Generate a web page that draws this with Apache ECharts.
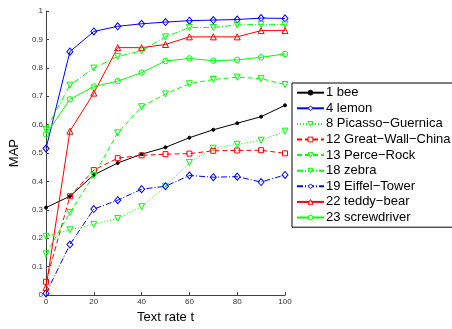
<!DOCTYPE html>
<html>
<head>
<meta charset="utf-8">
<script src="https://cdn.jsdelivr.net/npm/echarts@6/dist/echarts.min.js"></script>
<style>
  html, body { margin: 0; padding: 0; background: #fff; }
  #chart { width: 452px; height: 329px; }
</style>
</head>
<body>
<div id="chart"></div>
<script>
// Text rate t (x axis)
const textRates = [0, 10, 20, 30, 40, 50, 60, 70, 80, 90, 100];
const xTicks = [0, 20, 40, 60, 80, 100];

// MAP per query
const bee         = [0.308, 0.348, 0.423, 0.465, 0.496, 0.520, 0.554, 0.582, 0.605, 0.628, 0.668];
const lemon       = [0.516, 0.857, 0.928, 0.946, 0.955, 0.961, 0.966, 0.968, 0.970, 0.975, 0.974];
const picasso     = [0.207, 0.230, 0.249, 0.270, 0.311, 0.383, 0.467, 0.517, 0.531, 0.545, 0.577];
const greatWall   = [0.047, 0.348, 0.440, 0.482, 0.492, 0.496, 0.498, 0.508, 0.509, 0.510, 0.499];
const perceRock   = [0.145, 0.291, 0.421, 0.571, 0.663, 0.708, 0.744, 0.759, 0.767, 0.762, 0.741];
const zebra       = [0.583, 0.739, 0.799, 0.840, 0.860, 0.909, 0.942, 0.942, 0.951, 0.953, 0.953];
const eiffel      = [0.006, 0.178, 0.303, 0.334, 0.373, 0.383, 0.421, 0.415, 0.417, 0.398, 0.423];
const teddyBear   = [0.027, 0.577, 0.711, 0.871, 0.871, 0.882, 0.909, 0.909, 0.909, 0.931, 0.931];
const screwdriver = [0.566, 0.689, 0.734, 0.753, 0.783, 0.824, 0.833, 0.825, 0.828, 0.837, 0.849];

const seriesNames = [
  '1 bee', '4 lemon', '8 Picasso\u2212Guernica', '12 Great\u2212Wall\u2212China',
  '13 Perce\u2212Rock', '18 zebra', '19 Eiffel\u2212Tower', '22 teddy\u2212bear', '23 screwdriver'
];
const seriesColors = ['#000000', '#0000ff', '#00ff00', '#ff0000', '#00ff00', '#00ff00', '#0000ff', '#ff0000', '#00ff00'];

const DASHED = [5, 3];
const DOTTED = [1, 2];
const DASHDOT = [6, 2, 1, 2];

function makeSeries(idx, values, dash, symbol, size, filled, rotate) {
  const color = seriesColors[idx];
  return {
    name: seriesNames[idx],
    type: 'line',
    data: values.map((v, i) => [textRates[i], v]),
    symbol: symbol,
    symbolSize: size,
    symbolRotate: rotate || 0,
    showAllSymbol: true,
    lineStyle: { color: color, width: 1, type: dash },
    itemStyle: {
      color: filled ? color : 'rgba(255,255,255,0)',
      borderColor: color,
      borderWidth: 1
    },
    emphasis: { disabled: true }
  };
}

// Legend entries: hollow markers on a white box, the bee dot stays filled
const legendData = seriesNames.map((name, i) => ({
  name: name,
  itemStyle: {
    color: i === 0 ? seriesColors[i] : '#ffffff',
    borderColor: seriesColors[i],
    borderWidth: 1
  }
}));

const chart = echarts.init(document.getElementById('chart'), null, { renderer: 'canvas' });

chart.setOption({
  animation: false,
  backgroundColor: '#ffffff',
  grid: { left: 41, right: 167, top: 11, bottom: 29, containLabel: false },
  xAxis: {
    type: 'value',
    min: 0, max: 100, interval: 20,
    name: 'Text rate t',
    nameLocation: 'middle',
    nameGap: 13,
    nameTextStyle: { fontFamily: 'Liberation Sans', fontSize: 13, color: '#000' },
    axisLine: { lineStyle: { color: '#404040', width: 1 } },
    axisTick: { inside: true, length: 3, lineStyle: { color: '#404040' } },
    axisLabel: {
      fontFamily: 'Liberation Sans', fontSize: 8, color: '#333', margin: 3,
      customValues: xTicks
    },
    splitLine: { show: false }
  },
  yAxis: {
    type: 'value',
    min: 0, max: 1, interval: 0.1,
    name: 'MAP',
    nameLocation: 'middle',
    nameGap: 16,
    nameRotate: 90,
    nameTextStyle: { fontFamily: 'Liberation Sans', fontSize: 13, color: '#000' },
    axisLine: { show: true, lineStyle: { color: '#404040', width: 1 } },
    axisTick: { show: true, inside: true, length: 3, lineStyle: { color: '#404040' } },
    axisLabel: { fontFamily: 'Liberation Sans', fontSize: 8, color: '#333', margin: 3 },
    splitLine: { show: false }
  },
  legend: {
    orient: 'vertical',
    left: 292,
    top: 83,
    padding: [3.2, 4, 3.2, 4],
    itemWidth: 27,
    itemHeight: 6,
    itemGap: 2.6,
    backgroundColor: '#ffffff',
    borderColor: '#000000',
    borderWidth: 1,
    textStyle: { fontFamily: 'Liberation Sans', fontSize: 13, color: '#000', padding: [0, 0, 0, -3] },
    data: legendData
  },
  series: [
    makeSeries(0, bee, 'solid', 'circle', 3, true),
    makeSeries(1, lemon, 'solid', 'diamond', [6, 7], false),
    makeSeries(2, picasso, DOTTED, 'triangle', 6, false, 180),
    makeSeries(3, greatWall, DASHED, 'rect', 5, false),
    makeSeries(4, perceRock, DASHED, 'triangle', 6, false, 180),
    makeSeries(5, zebra, DASHDOT, 'triangle', 6, false, 180),
    makeSeries(6, eiffel, DASHDOT, 'diamond', [6, 7], false),
    makeSeries(7, teddyBear, 'solid', 'triangle', 6, false),
    makeSeries(8, screwdriver, 'solid', 'circle', 5.5, false)
  ]
});
</script>
</body>
</html>
